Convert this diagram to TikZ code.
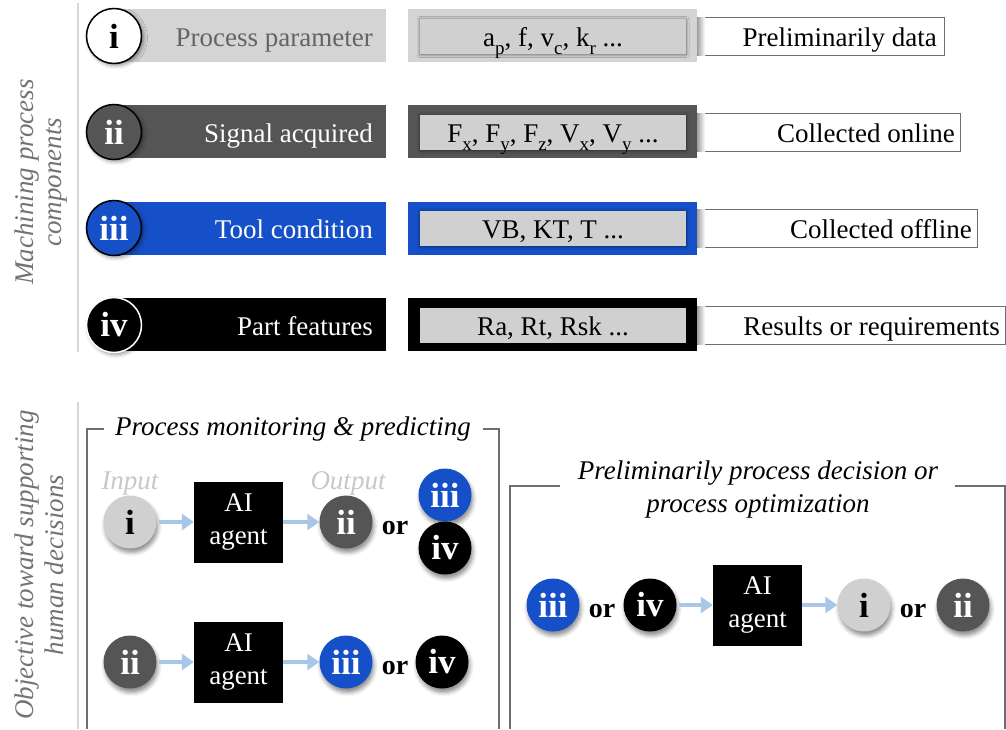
\documentclass[tikz,border=0pt]{standalone}
\usepackage{fontspec}
\setmainfont{Liberation Serif}
\usetikzlibrary{arrows.meta,shadows.blur}

\definecolor{lgray}{RGB}{208,208,208}
\definecolor{barlight}{RGB}{212,212,212}
\definecolor{dgray}{RGB}{85,85,85}
\definecolor{cblue}{RGB}{22,80,200}
\definecolor{arrowblue}{RGB}{168,198,230}
\definecolor{labgray}{RGB}{115,115,115}
\definecolor{titlegray}{RGB}{100,100,100}
\definecolor{hintgray}{RGB}{200,200,200}
\definecolor{framegray}{RGB}{110,110,110}
\definecolor{rulegray}{RGB}{215,215,215}

% lowered small index letters in the parameter lists
\newcommand\idx[1]{\raisebox{-0.3em}{\fontsize{19}{19}\selectfont #1}}

\begin{document}
\begin{tikzpicture}[x=1pt,y=-1pt,
  txt/.style={font=\fontsize{27}{33}\selectfont, inner sep=0pt},
  itxt/.style={font=\fontsize{27}{33}\selectfont\itshape, inner sep=0pt},
  bar/.style={anchor=north west, minimum width=272pt, minimum height=53pt, inner sep=0pt},
  outerbox/.style={anchor=north west, minimum width=289pt, minimum height=53pt, inner sep=0pt},
  innerbox/.style={minimum width=266pt, minimum height=35pt, inner sep=0pt, fill=lgray,
    blur shadow={shadow xshift=0pt, shadow yshift=-1pt, shadow blur radius=3pt, shadow opacity=55}},
  wbox/.style={anchor=north west, minimum height=38pt, inner sep=0pt, fill=white, draw=framegray, line width=1.2pt},
  numtop/.style={circle, minimum size=55pt, inner sep=0pt, line width=1.5pt,
    font=\fontsize{35}{35}\selectfont\bfseries,
    blur shadow={shadow xshift=2pt, shadow yshift=-2pt, shadow blur radius=4pt, shadow opacity=45}},
  dcirc/.style={circle, minimum size=53pt, inner sep=0pt,
    font=\fontsize{35}{35}\selectfont\bfseries,
    blur shadow={shadow xshift=1.5pt, shadow yshift=-4pt, shadow blur radius=4pt, shadow opacity=45}},
  agent/.style={fill=black, text=white, minimum width=89pt, minimum height=81pt, inner sep=0pt,
    align=center, font=\fontsize{27}{33}\selectfont},
  flow/.style={draw=arrowblue, line width=4.5pt, -{Triangle[length=12pt,width=16pt]}},
  orlab/.style={font=\fontsize{28}{28}\selectfont\bfseries, inner sep=0pt},
  frame/.style={draw=framegray, line width=1.5pt},
  sidelab/.style={font=\fontsize{27}{33}\selectfont\itshape, text=labgray, inner sep=0pt, rotate=90, anchor=base},
]
\useasboundingbox (0,0) rectangle (1006,729);

% ---------- machining process components ----------
\draw[rulegray, line width=1.5pt] (78,3) coordinate (r1a) -- (78,352) coordinate (r1b);
\node[sidelab] (lab1a) at (33,182) {Machining process};
\node[sidelab] (lab1b) at (61,182) {components};

% row i
\node[bar, fill=barlight] (bar1) at (114,9) {};
\node[txt, anchor=base east, text=titlegray] (t1) at (373,46) {Process parameter};
\node[outerbox, fill=barlight] (m1) at (408,9) {};
\node[innerbox] (in1) at (553,36) {};
\node[txt, anchor=base] (v1) at (553,46) {a\idx{p}, f, v\idx{c}, k\idx{r} ...};
\node[wbox, minimum width=247pt] (w1) at (697,17) {};
\shade[left color=black!35, right color=white] ([xshift=0.6pt,yshift=-0.6pt]w1.north west) rectangle ([xshift=8pt,yshift=0.6pt]w1.south west);
\node[txt, anchor=base east] (d1) at (937,46) {Preliminarily data};
\node[numtop, fill=white, draw=black, text=black] (n1) at (114,36) {i};

% row ii
\node[bar, fill=dgray] (bar2) at (114,105) {};
\node[txt, anchor=base east, text=white] (t2) at (373,142) {Signal acquired};
\node[outerbox, fill=dgray] (m2) at (408,105) {};
\node[innerbox] (in2) at (553,132) {};
\node[txt, anchor=base] (v2) at (553,142) {F\idx{x}, F\idx{y}, F\idx{z}, V\idx{x}, V\idx{y} ...};
\node[wbox, minimum width=263pt] (w2) at (697,113) {};
\shade[left color=black!35, right color=white] ([xshift=0.6pt,yshift=-0.6pt]w2.north west) rectangle ([xshift=8pt,yshift=0.6pt]w2.south west);
\node[txt, anchor=base east] (d2) at (955,142) {Collected online};
\node[numtop, fill=dgray, draw=black, text=white] (n2) at (114,132) {ii};

% row iii
\node[bar, fill=cblue] (bar3) at (114,202) {};
\node[txt, anchor=base east, text=white] (t3) at (373,238) {Tool condition};
\node[outerbox, fill=cblue] (m3) at (408,202) {};
\node[innerbox] (in3) at (553,228) {};
\node[txt, anchor=base] (v3) at (553,238) {VB, KT, T ...};
\node[wbox, minimum width=280pt] (w3) at (697,209) {};
\shade[left color=black!35, right color=white] ([xshift=0.6pt,yshift=-0.6pt]w3.north west) rectangle ([xshift=8pt,yshift=0.6pt]w3.south west);
\node[txt, anchor=base east] (d3) at (972,238) {Collected offline};
\node[numtop, fill=cblue, draw=black, text=white] (n3) at (114,228) {iii};

% row iv
\node[bar, fill=black] (bar4) at (114,298) {};
\node[txt, anchor=base east, text=white] (t4) at (373,335) {Part features};
\node[outerbox, fill=black] (m4) at (408,298) {};
\node[innerbox] (in4) at (553,325) {};
\node[txt, anchor=base] (v4) at (553,335) {Ra, Rt, Rsk ...};
\node[wbox, minimum width=308pt] (w4) at (697,306) {};
\shade[left color=black!35, right color=white] ([xshift=0.6pt,yshift=-0.6pt]w4.north west) rectangle ([xshift=8pt,yshift=0.6pt]w4.south west);
\node[txt, anchor=base east] (d4) at (1000,335) {Results or requirements};
\node[numtop, fill=black, draw=white, text=white] (n4) at (114,325) {iv};

% ---------- objective toward supporting human decisions ----------
\draw[rulegray, line width=1.5pt] (78,402) coordinate (r2a) -- (78,729) coordinate (r2b);
\node[sidelab] (lab2a) at (33,565) {Objective toward supporting};
\node[sidelab] (lab2b) at (63,565) {human decisions};

% left frame: monitoring and predicting
\node[itxt, anchor=base] (ft1) at (293,435) {Process monitoring \& predicting};
\draw[frame] (104,429) -- (87,429) -- (87,729);
\draw[frame] (483,429) -- (499,429) -- (499,729);

\node[itxt, anchor=base, text=hintgray] (inp) at (130,489) {Input};
\node[itxt, anchor=base, text=hintgray] (outp) at (348,489) {Output};

\node[dcirc, fill=lgray, text=black] (a1) at (130,522) {i};
\node[agent] (ag1) at (238.5,522) {AI\\agent};
\node[dcirc, fill=dgray, text=white] (a2) at (346,522) {ii};
\node[orlab, anchor=base] (or1) at (395,534) {or};
\node[dcirc, fill=cblue, text=white] (a3) at (445,495) {iii};
\node[dcirc, fill=black, text=white] (a4) at (445,548) {iv};
\draw[flow] ([xshift=2pt]a1.east) -- (ag1.west);
\draw[flow] (ag1.east) -- (a2.west);

\node[dcirc, fill=dgray, text=white] (b1) at (130,662) {ii};
\node[agent] (ag2) at (238.5,662) {AI\\agent};
\node[dcirc, fill=cblue, text=white] (b2) at (346,662) {iii};
\node[orlab, anchor=base] (or2) at (395,674) {or};
\node[dcirc, fill=black, text=white] (b3) at (442,662) {iv};
\draw[flow] ([xshift=2pt]b1.east) -- (ag2.west);
\draw[flow] (ag2.east) -- (b2.west);

% right frame: preliminary decision or optimization
\node[itxt, anchor=base] (ft2a) at (758,479) {Preliminarily process decision or};
\node[itxt, anchor=base] (ft2b) at (758,512) {process optimization};
\draw[frame] (560,486) -- (510,486) -- (510,729);
\draw[frame] (955,486) -- (1005,486) -- (1005,729);

\node[dcirc, fill=cblue, text=white] (c1) at (553,605) {iii};
\node[orlab, anchor=base] (or3) at (602,617) {or};
\node[dcirc, fill=black, text=white] (c2) at (650,605) {iv};
\node[agent] (ag3) at (757.5,605) {AI\\agent};
\node[dcirc, fill=lgray, text=black] (c3) at (864,605) {i};
\node[orlab, anchor=base] (or4) at (913,617) {or};
\node[dcirc, fill=dgray, text=white] (c4) at (963,605) {ii};
\draw[flow] ([xshift=2pt]c2.east) -- (ag3.west);
\draw[flow] (ag3.east) -- (c3.west);
\end{tikzpicture}
\end{document}
